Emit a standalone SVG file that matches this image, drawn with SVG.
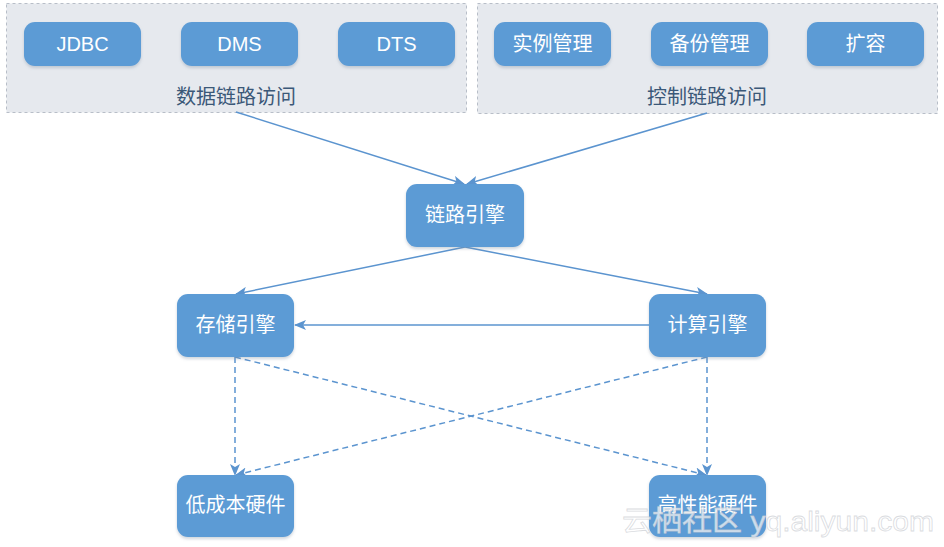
<svg xmlns="http://www.w3.org/2000/svg" width="944" height="547" viewBox="0 0 944 547">
<defs>
<marker id="arr" viewBox="0 0 12 10" refX="11" refY="5" markerWidth="12" markerHeight="10" markerUnits="userSpaceOnUse" orient="auto">
<path d="M0,0 L12,5 L0,10 L3,5 z" fill="#5b94cf"/>
</marker>
<filter id="sh" x="-10%" y="-10%" width="120%" height="130%">
<feDropShadow dx="0" dy="2" stdDeviation="1.5" flood-color="#7a8aa0" flood-opacity="0.35"/>
</filter>
</defs>
<style>
.grp{fill:#e6e9ee;stroke:#b8bec8;stroke-width:1;stroke-dasharray:3 3}
.box{fill:#5b9bd5;filter:url(#sh)}
.t{font-family:"Liberation Sans","Noto Sans CJK SC",sans-serif;font-size:20px;fill:#ffffff;text-anchor:middle;dominant-baseline:central}
.gl{font-family:"Liberation Sans","Noto Sans CJK SC",sans-serif;font-size:20px;fill:#3b5878;text-anchor:middle;dominant-baseline:central}
.ln{stroke:#5b94cf;stroke-width:1.5;fill:none;marker-end:url(#arr)}
.dl{stroke:#5b94cf;stroke-width:1.5;fill:none;stroke-dasharray:6 4;marker-end:url(#arr)}
.wm{font-family:"Liberation Sans","Noto Sans CJK SC",sans-serif;font-size:28px;fill:#ffffff;fill-opacity:0.7;stroke:#c9ccd1;stroke-width:0.8;stroke-opacity:0.7}
</style>
<g id="group-data">
<rect class="grp" x="6.5" y="3.5" width="460" height="109"/>
<text class="gl" x="236" y="97">数据链路访问</text>
</g>
<g id="group-ctrl">
<rect class="grp" x="477.5" y="3.5" width="460" height="110"/>
<text class="gl" x="707" y="97">控制链路访问</text>
</g>
<g id="connectors">
<line class="ln" x1="236" y1="112" x2="464" y2="184"/>
<line class="ln" x1="707" y1="113" x2="467" y2="184"/>
<line class="ln" x1="465" y1="247" x2="236" y2="294"/>
<line class="ln" x1="465" y1="247" x2="707" y2="294"/>
<line class="ln" x1="649" y1="325" x2="295" y2="325"/>
<line class="dl" x1="235" y1="357" x2="235" y2="475"/>
<line class="dl" x1="235" y1="357" x2="706" y2="475"/>
<line class="dl" x1="707" y1="357" x2="236" y2="475"/>
<line class="dl" x1="707" y1="357" x2="707" y2="475"/>
</g>
<g id="n-jdbc"><rect class="box" x="24" y="22" width="117" height="44" rx="11"/><text class="t" x="82.5" y="44">JDBC</text></g>
<g id="n-dms"><rect class="box" x="181" y="22" width="117" height="44" rx="11"/><text class="t" x="239.5" y="44">DMS</text></g>
<g id="n-dts"><rect class="box" x="338" y="22" width="117" height="44" rx="11"/><text class="t" x="396.5" y="44">DTS</text></g>
<g id="n-inst"><rect class="box" x="494" y="22" width="117" height="44" rx="11"/><text class="t" x="552.5" y="44">实例管理</text></g>
<g id="n-backup"><rect class="box" x="651" y="22" width="117" height="44" rx="11"/><text class="t" x="709.5" y="44">备份管理</text></g>
<g id="n-scale"><rect class="box" x="807" y="22" width="117" height="44" rx="11"/><text class="t" x="865.5" y="44">扩容</text></g>
<g id="n-link"><rect class="box" x="406" y="184" width="118" height="63" rx="11"/><text class="t" x="465" y="215">链路引擎</text></g>
<g id="n-storage"><rect class="box" x="177" y="294" width="117" height="63" rx="11"/><text class="t" x="235.5" y="325">存储引擎</text></g>
<g id="n-compute"><rect class="box" x="649" y="294" width="117" height="63" rx="11"/><text class="t" x="707.5" y="325">计算引擎</text></g>
<g id="n-lowcost"><rect class="box" x="177" y="475" width="117" height="62" rx="11"/><text class="t" x="235.5" y="505">低成本硬件</text></g>
<g id="n-highperf"><rect class="box" x="649" y="475" width="117" height="62" rx="11"/><text class="t" x="707.5" y="505">高性能硬件</text></g>
<text class="wm" x="622" y="531" textLength="312" lengthAdjust="spacingAndGlyphs">云栖社区 yq.aliyun.com</text>
</svg>
